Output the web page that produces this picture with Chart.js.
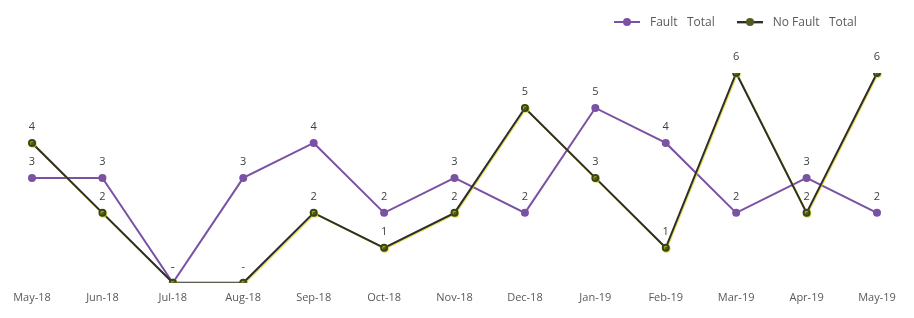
<!DOCTYPE html>
<html>
<head>
<meta charset="utf-8">
<script src="https://cdn.jsdelivr.net/npm/chart.js@4"></script>
<style>
  html,body{margin:0;padding:0;background:#fff;}
  #wrap{position:relative;width:914px;height:318px;}
  .legend{position:absolute;top:13px;left:614px;display:flex;gap:0;font-family:"Open Sans",sans-serif;font-size:12px;color:#595959;}
  .item{display:flex;align-items:center;margin-right:22px;}
  .mk{position:relative;width:26px;height:16px;margin-right:10px;}
  .mk .ln{position:absolute;left:0;right:0;top:7px;height:2px;}
  .mk .dt{position:absolute;left:9px;top:4px;width:8px;height:8px;border-radius:50%;}
</style>
</head>
<body>
<div id="wrap">
  <canvas id="c" width="914" height="318"></canvas>
  <div class="legend">
    <div class="item"><div class="mk"><div class="ln" style="background:#7b52a3"></div><div class="dt" style="background:#7b52a3"></div></div>Fault&nbsp;&nbsp; Total</div>
    <div class="item"><div class="mk"><div class="ln" style="background:#2d2d2d;box-shadow:0 1px 0 #c8c800"></div><div class="dt" style="background:#4f5d22"></div></div>No Fault&nbsp;&nbsp; Total</div>
  </div>
</div>
<script>
const months = ["May-18","Jun-18","Jul-18","Aug-18","Sep-18","Oct-18","Nov-18","Dec-18","Jan-19","Feb-19","Mar-19","Apr-19","May-19"];
const faultTotal   = [3,3,0,3,4,2,3,2,5,4,2,3,2];
const noFaultTotal = [4,2,0,0,2,1,2,5,3,1,6,2,6];

// value labels above each point, "-" for zero like the excel sheet
const valueLabels = {
  id:"valueLabels",
  afterDatasetsDraw(chart) {
    const ctx = chart.ctx;
    ctx.save();
    ctx.font = "11px 'Open Sans', sans-serif";
    ctx.fillStyle = "#404040";
    ctx.textAlign = "center";
    ctx.textBaseline = "middle";
    chart.data.datasets.forEach((ds,i) => {
      chart.getDatasetMeta(i).data.forEach((pt,j) => {
        const v = ds.data[j];
        ctx.fillText(v===0 ? "-" : String(v), pt.x, pt.y-16);
      });
    });
    ctx.restore();
  }
};

// yellowish edge on the dark series
const yellowEdge = {
  id:"yellowEdge",
  beforeDatasetDraw(chart, args) {
    if (args.index!==1) return;
    const ctx = chart.ctx;
    ctx.save();
    ctx.shadowColor = "rgba(215,205,0,0.7)";
    ctx.shadowOffsetX = 0.8;
    ctx.shadowOffsetY = 0.8;
    ctx.shadowBlur = 0;
  },
  afterDatasetDraw(chart, args) {
    if (args.index!==1) return;
    chart.ctx.restore();
  }
};

new Chart(document.getElementById("c").getContext("2d"), {
  type:"line",
  data:{
    labels: months,
    datasets:[
      {label:"Fault  Total", data:faultTotal, borderColor:"#7b52a3", backgroundColor:"#7b52a3",
       pointBackgroundColor:"#7b52a3", pointBorderColor:"#7b52a3", borderWidth:2, pointRadius:3, tension:0, order:1},
      {label:"No Fault  Total", data:noFaultTotal, borderColor:"#2d2d2d", backgroundColor:"#4f5d22",
       pointBackgroundColor:"#4f5d22", pointBorderColor:"#3a4418", borderWidth:2, pointRadius:3, tension:0, order:0}
    ]
  },
  options:{
    responsive:false, animation:false,
    layout:{padding:{left:32,right:37,top:73,bottom:14}},
    plugins:{legend:{display:false}, tooltip:{enabled:false}},
    scales:{
      x:{grid:{display:false}, border:{display:false},
         ticks:{padding:0, maxRotation:0, autoSkip:false, color:"#595959", font:{family:"'Open Sans', sans-serif", size:11}}},
      y:{display:false, min:0, max:6}
    }
  },
  plugins:[valueLabels, yellowEdge]
});
</script>
</body>
</html>
